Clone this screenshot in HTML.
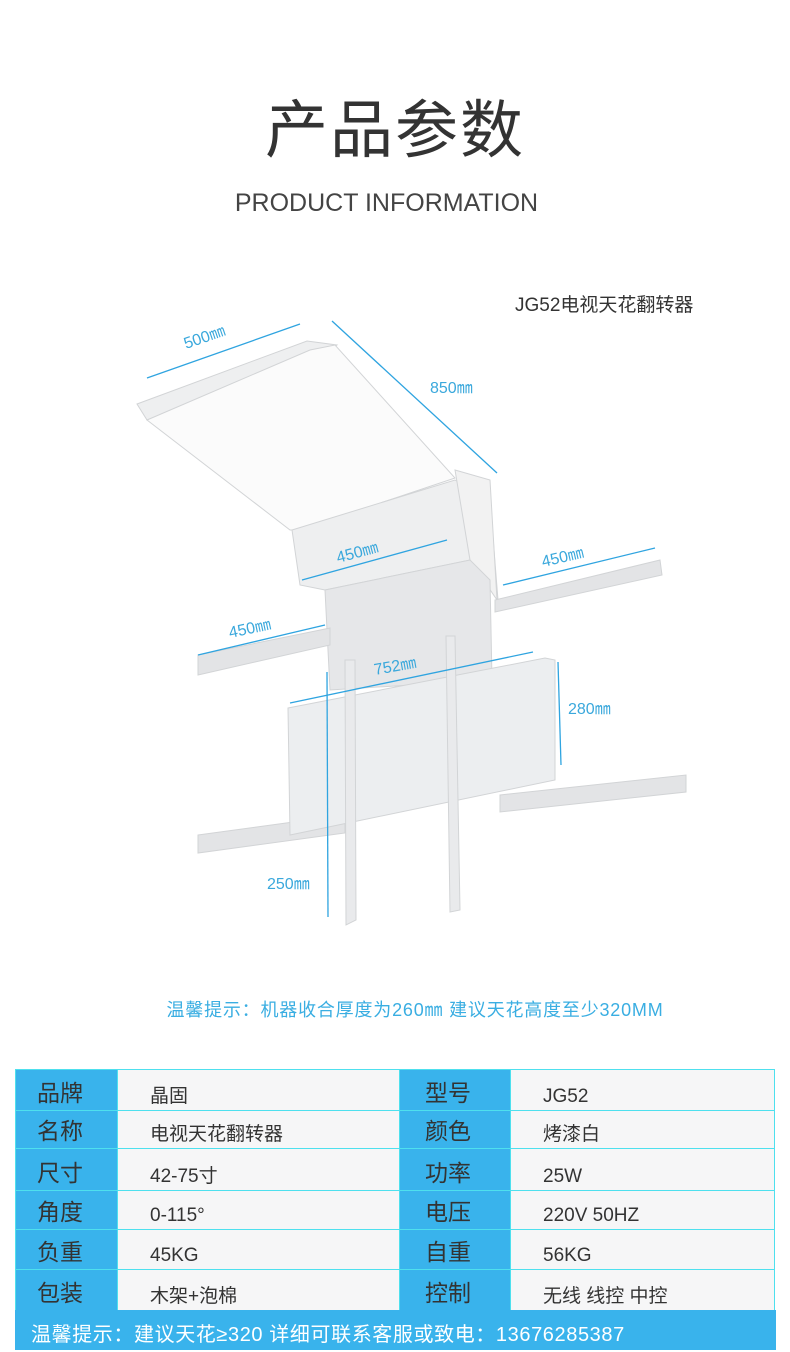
<!DOCTYPE html>
<html><head><meta charset="utf-8">
<style>
*{margin:0;padding:0;box-sizing:border-box}
body{width:790px;height:1352px;background:#fff;position:relative;overflow:hidden;font-family:"Liberation Sans","Noto Sans CJK SC",sans-serif;color:#333}
.abs{position:absolute;white-space:nowrap}
table{position:absolute;left:15px;top:1069px;border-collapse:collapse}
td{border:1px solid #4ee0ee;vertical-align:bottom;padding-bottom:2px}
td.k{background:#39b3ec;width:102px;font-size:23px;padding-left:21px;color:#333}
td.v{background:#f6f6f7;font-size:19px;padding-left:32px;color:#333}
td.k2{background:#39b3ec;width:111px;font-size:23px;padding-left:25px}
</style></head><body>
<div class="abs" style="left:0;width:790px;text-align:center;top:80px;font-size:63px;letter-spacing:2px">产品参数</div>
<div class="abs" style="left:0;width:773px;text-align:center;top:189px;font-size:25px;letter-spacing:0px;color:#444">PRODUCT INFORMATION</div>
<div class="abs" style="left:515px;top:290px;font-size:19px">JG52电视天花翻转器</div>

<svg class="abs" style="left:0;top:0" width="790" height="1000">
<g stroke="#d2d4d6" stroke-width="1">
<polygon points="137,404 307,341 337,345 325,355 147,420" fill="#eeeff0"/>
<polygon points="147,420 310,350 335,345 455,478 300,530 290,530" fill="#fbfbfb"/>
<polygon points="292,530 455,480 490,500 498,600 470,560 325,590 300,585" fill="#eeeff0"/>
<polygon points="455,470 490,480 497,600 470,560" fill="#f2f2f2"/>
<polygon points="325,590 470,560 490,580 492,680 330,690" fill="#e6e7e9"/>
<polygon points="198,655 330,628 330,645 198,675" fill="#e3e4e6"/>
<polygon points="495,600 660,560 662,575 495,612" fill="#e3e4e6"/>
<polygon points="198,835 345,815 345,833 198,853" fill="#e3e4e6"/>
<polygon points="500,795 686,775 686,792 500,812" fill="#e3e4e6"/>
<polygon points="288,708 545,658 555,660 555,780 290,835" fill="#eceef0"/>
<polygon points="345,660 355,660 356,920 346,925" fill="#e9eaec"/>
<polygon points="446,636 455,636 460,910 450,912" fill="#e9eaec"/>
</g>
<g stroke="#2fa4e0" stroke-width="1.3" fill="#2fa4e0">
<line x1="147" y1="378" x2="300" y2="324"/>
<line x1="332" y1="321" x2="497" y2="473"/>
<line x1="302" y1="580" x2="447" y2="540"/>
<line x1="503" y1="585" x2="655" y2="548"/>
<line x1="198" y1="655" x2="325" y2="625"/>
<line x1="290" y1="703" x2="533" y2="652"/>
<line x1="558" y1="662" x2="561" y2="765"/>
<line x1="327" y1="672" x2="328" y2="917"/>
</g>
<g fill="#3aa8dc" font-family="Liberation Sans,sans-serif" font-size="16">
<text x="186" y="349" transform="rotate(-19 186 349)">500㎜</text>
<text x="430" y="393">850㎜</text>
<text x="338" y="563" transform="rotate(-15 338 563)">450㎜</text>
<text x="543" y="567" transform="rotate(-13 543 567)">450㎜</text>
<text x="230" y="638" transform="rotate(-12 230 638)">450㎜</text>
<text x="375" y="675" transform="rotate(-10 375 675)">752㎜</text>
<text x="568" y="714">280㎜</text>
<text x="267" y="889">250㎜</text>
</g>
</svg>

<div class="abs" style="left:0;width:830px;text-align:center;top:996px;font-size:18px;letter-spacing:0.8px;color:#3aaee2">温馨提示：机器收合厚度为260㎜ 建议天花高度至少320MM</div>

<table>
<tr style="height:41px"><td class="k">品牌</td><td class="v" style="width:282px">晶固</td><td class="k2">型号</td><td class="v" style="width:264px">JG52</td></tr>
<tr style="height:38px"><td class="k">名称</td><td class="v">电视天花翻转器</td><td class="k2">颜色</td><td class="v">烤漆白</td></tr>
<tr style="height:42px"><td class="k">尺寸</td><td class="v">42-75寸</td><td class="k2">功率</td><td class="v">25W</td></tr>
<tr style="height:39px"><td class="k">角度</td><td class="v">0-115°</td><td class="k2">电压</td><td class="v">220V 50HZ</td></tr>
<tr style="height:40px"><td class="k">负重</td><td class="v">45KG</td><td class="k2">自重</td><td class="v">56KG</td></tr>
<tr style="height:41px"><td class="k">包装</td><td class="v">木架+泡棉</td><td class="k2">控制</td><td class="v">无线 线控 中控</td></tr>
</table>
<div class="abs" style="left:15px;top:1310px;width:761px;height:40px;background:#39b3ec;color:#fff;font-size:20px;letter-spacing:0.6px;padding:8px 0 0 16px">温馨提示：建议天花≥320 详细可联系客服或致电：13676285387</div>
</body></html>
